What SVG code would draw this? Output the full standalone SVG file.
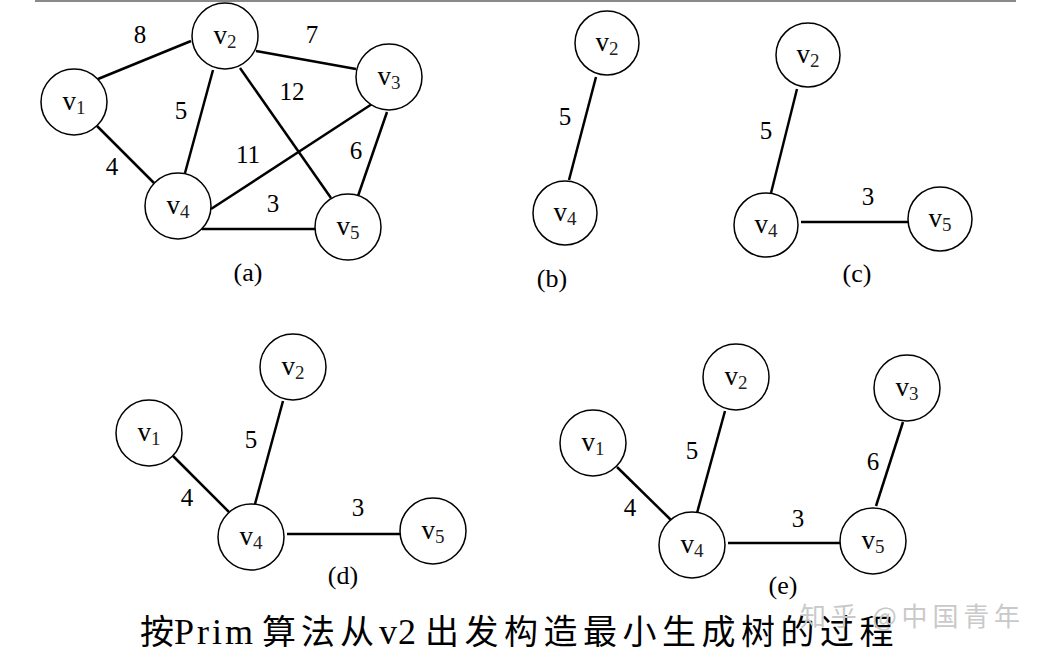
<svg xmlns="http://www.w3.org/2000/svg" width="1049" height="659" viewBox="0 0 1049 659">
<defs>
<style>
.n{fill:#fff;stroke:#000;stroke-width:1.5}
.e{stroke:#000;stroke-width:2.5;fill:none}
.lbl{font-family:"Liberation Serif",serif;font-size:27px;fill:#000;text-anchor:middle}
.sub{font-size:19px;fill:#222}
.w{font-family:"Liberation Serif",serif;font-size:25px;fill:#000;text-anchor:middle}
.pl{font-family:"Liberation Serif",serif;font-size:26px;fill:#000;text-anchor:middle}
.cap{font-family:"Liberation Serif","Noto Sans CJK SC",serif;font-size:34px;fill:#000}
.wm{font-family:"Noto Sans CJK SC","Noto Sans",sans-serif;font-size:26px;fill:#c9c9c9}
</style>
</defs>
<rect width="1049" height="659" fill="#fff"/>
<rect x="35" y="0" width="981" height="2" fill="#8a8a8a"/>

<g id="connectors">
<line class="e" x1="98" y1="79" x2="191" y2="41"/>
<line class="e" x1="256" y1="51" x2="356" y2="69"/>
<line class="e" x1="97" y1="126" x2="154" y2="183"/>
<line class="e" x1="213" y1="70" x2="185" y2="173"/>
<line class="e" x1="240" y1="68" x2="331" y2="198"/>
<line class="e" x1="372" y1="104" x2="211" y2="209"/>
<line class="e" x1="387" y1="112" x2="358" y2="196"/>
<line class="e" x1="202" y1="229" x2="315" y2="229"/>

<line class="e" x1="596" y1="77" x2="569" y2="180"/>

<line class="e" x1="797" y1="89" x2="771" y2="193"/>
<line class="e" x1="801" y1="222" x2="909" y2="222"/>

<line class="e" x1="283" y1="401" x2="255" y2="504"/>
<line class="e" x1="173" y1="456" x2="229" y2="512"/>
<line class="e" x1="287" y1="534" x2="400" y2="534"/>

<line class="e" x1="725" y1="411" x2="697" y2="513"/>
<line class="e" x1="617" y1="467" x2="672" y2="521"/>
<line class="e" x1="728" y1="543" x2="841" y2="543"/>
<line class="e" x1="903" y1="422" x2="876" y2="506"/>
</g>

<g id="weights">
<text class="w" x="140" y="43">8</text>
<text class="w" x="312" y="43">7</text>
<text class="w" x="292" y="100">12</text>
<text class="w" x="181" y="119">5</text>
<text class="w" x="248" y="163">11</text>
<text class="w" x="356" y="159">6</text>
<text class="w" x="112" y="175">4</text>
<text class="w" x="273" y="212">3</text>
<text class="w" x="565" y="125">5</text>
<text class="w" x="766" y="139">5</text>
<text class="w" x="868" y="205">3</text>
<text class="w" x="251" y="448">5</text>
<text class="w" x="187" y="506">4</text>
<text class="w" x="358" y="516">3</text>
<text class="w" x="692" y="459">5</text>
<text class="w" x="630" y="516">4</text>
<text class="w" x="798" y="527">3</text>
<text class="w" x="873" y="470">6</text>
</g>

<g id="a-v1"><circle class="n" cx="74" cy="102" r="33"/><text class="lbl" x="74" y="110">v<tspan class="sub" dy="4">1</tspan></text></g>
<g id="a-v2"><circle class="n" cx="225" cy="36" r="33"/><text class="lbl" x="225" y="44">v<tspan class="sub" dy="4">2</tspan></text></g>
<g id="a-v3"><circle class="n" cx="389" cy="77" r="33"/><text class="lbl" x="389" y="85">v<tspan class="sub" dy="4">3</tspan></text></g>
<g id="a-v4"><circle class="n" cx="178" cy="206" r="33"/><text class="lbl" x="178" y="214">v<tspan class="sub" dy="4">4</tspan></text></g>
<g id="a-v5"><circle class="n" cx="348" cy="227" r="33"/><text class="lbl" x="348" y="235">v<tspan class="sub" dy="4">5</tspan></text></g>

<g id="b-v2"><circle class="n" cx="607" cy="43" r="32"/><text class="lbl" x="607" y="51">v<tspan class="sub" dy="4">2</tspan></text></g>
<g id="b-v4"><circle class="n" cx="565" cy="213" r="32"/><text class="lbl" x="565" y="221">v<tspan class="sub" dy="4">4</tspan></text></g>

<g id="c-v2"><circle class="n" cx="808" cy="55" r="32"/><text class="lbl" x="808" y="63">v<tspan class="sub" dy="4">2</tspan></text></g>
<g id="c-v4"><circle class="n" cx="766" cy="225" r="32"/><text class="lbl" x="766" y="233">v<tspan class="sub" dy="4">4</tspan></text></g>
<g id="c-v5"><circle class="n" cx="940" cy="219" r="32"/><text class="lbl" x="940" y="227">v<tspan class="sub" dy="4">5</tspan></text></g>

<g id="d-v1"><circle class="n" cx="149" cy="433" r="33"/><text class="lbl" x="149" y="441">v<tspan class="sub" dy="4">1</tspan></text></g>
<g id="d-v2"><circle class="n" cx="293" cy="367" r="33"/><text class="lbl" x="293" y="375">v<tspan class="sub" dy="4">2</tspan></text></g>
<g id="d-v4"><circle class="n" cx="251" cy="537" r="33"/><text class="lbl" x="251" y="545">v<tspan class="sub" dy="4">4</tspan></text></g>
<g id="d-v5"><circle class="n" cx="433" cy="531" r="33"/><text class="lbl" x="433" y="539">v<tspan class="sub" dy="4">5</tspan></text></g>

<g id="e-v1"><circle class="n" cx="593" cy="443" r="33"/><text class="lbl" x="593" y="451">v<tspan class="sub" dy="4">1</tspan></text></g>
<g id="e-v2"><circle class="n" cx="736" cy="377" r="33"/><text class="lbl" x="736" y="385">v<tspan class="sub" dy="4">2</tspan></text></g>
<g id="e-v3"><circle class="n" cx="907" cy="388" r="33"/><text class="lbl" x="907" y="396">v<tspan class="sub" dy="4">3</tspan></text></g>
<g id="e-v4"><circle class="n" cx="692" cy="545" r="33"/><text class="lbl" x="692" y="553">v<tspan class="sub" dy="4">4</tspan></text></g>
<g id="e-v5"><circle class="n" cx="873" cy="541" r="33"/><text class="lbl" x="873" y="549">v<tspan class="sub" dy="4">5</tspan></text></g>

<g id="captions">
<text class="pl" x="248" y="281">(a)</text>
<text class="pl" x="552" y="287">(b)</text>
<text class="pl" x="857" y="282">(c)</text>
<text class="pl" x="343" y="584">(d)</text>
<text class="pl" x="783" y="594">(e)</text>
<text class="cap" y="644"><tspan x="140">按</tspan><tspan x="174" font-size="36" letter-spacing="3">Prim</tspan><tspan x="262" letter-spacing="5">算法从</tspan><tspan x="379" font-size="36" letter-spacing="1">v2</tspan><tspan x="425" letter-spacing="5.5">出发构造最小生成树的过程</tspan></text>
<text class="wm" x="800" y="626" textLength="220" lengthAdjust="spacing">知乎 @中国青年</text>
</g>
</svg>
